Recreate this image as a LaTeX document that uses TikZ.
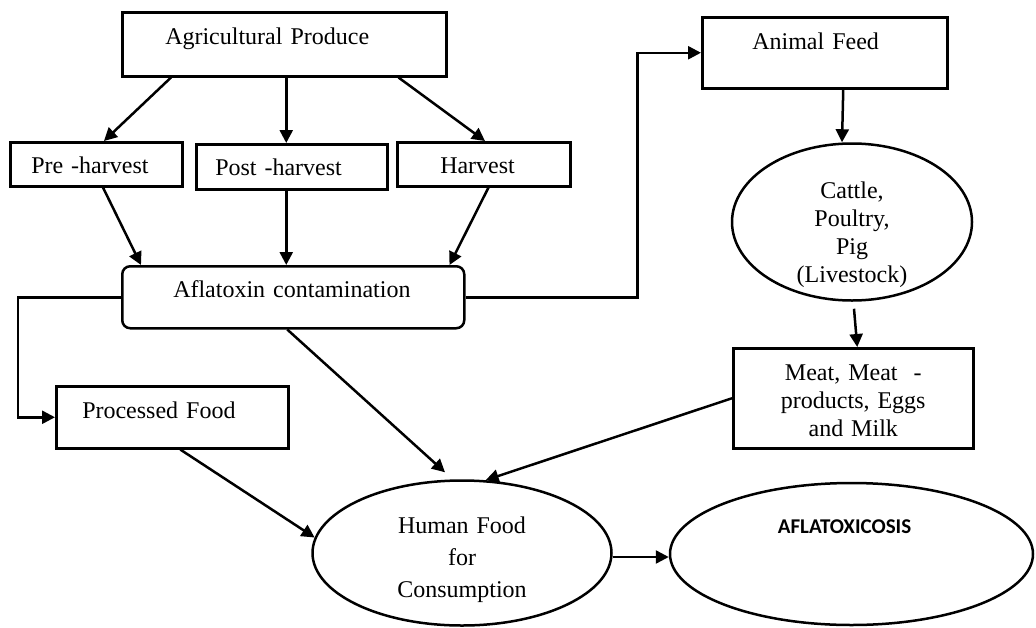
\documentclass[tikz,border=0pt]{standalone}
\usepackage{fontspec}
\setmainfont{Liberation Serif}
\newfontfamily\calibri{Carlito}
\usetikzlibrary{shapes.geometric,arrows.meta}

\tikzset{
    box/.style={draw, line width=2.5pt, inner ysep=0pt, align=left, anchor=north west},
    oval/.style={draw, ellipse, line width=2.5pt, inner sep=0pt, align=center},
    link/.style={line width=2.5pt, -{Triangle[length=13pt,width=13pt]}}
}

\begin{document}
\begin{tikzpicture}[x=1pt,y=-1pt,font=\fontsize{24}{28}\selectfont]
    \useasboundingbox (0,0) rectangle (1036,627);
    \node[box, inner xsep=43pt, text width=238pt, text height=32pt, text depth=32pt] (agri) at (121,11) {Agricultural Produce};
    \node[box, inner xsep=21pt, text width=130pt, text height=31pt, text depth=13pt] (pre) at (9,141) {Pre -harvest};
    \node[box, inner xsep=19pt, text width=153pt, text height=31pt, text depth=14pt] (post) at (195,143) {Post -harvest};
    \node[box, inner xsep=43pt, text width=87pt, text height=31pt, text depth=13pt] (harv) at (396,141) {Harvest};
    \node[box, rounded corners=8pt, inner xsep=51pt, text width=240pt, text height=31pt, text depth=31pt] (afla) at (121,265) {Aflatoxin contamination};
    \node[box, inner xsep=26pt, text width=180pt, text height=32pt, text depth=30pt] (proc) at (55,385) {Processed Food};
    \node[box, inner xsep=50pt, text width=145pt, text height=32pt, text depth=39pt] (feed) at (701,16) {Animal Feed};
    \node[oval, text width=130pt, minimum width=240pt, minimum height=157pt, text height=10pt, text depth=58pt] (stock) at (852,222) {Cattle,\\Poultry,\\Pig\\(Livestock)};
    \node[box, align=center, inner xsep=10pt, text width=220pt, text height=32pt, text depth=68pt] (meat) at (732,347) {Meat, Meat\hspace{16pt}-\\products, Eggs\hspace*{26pt}\\and Milk\hspace*{16pt}};
    \node[oval, font=\fontsize{24}{32}\selectfont, text width=150pt, minimum width=299pt, minimum height=145pt, text height=10pt, text depth=50pt] (human) at (462,553) {Human Food\\for\\Consumption};
    \node[oval, font=\calibri\bfseries\fontsize{21}{25}\selectfont, minimum width=363pt, minimum height=142pt, text height=10pt, text depth=52pt] (tox) at (851.5,554) {AFLATOXICOSIS\hspace*{14pt}};

    \path[link]
    ([xshift=50pt]agri.south west) edge ([xshift=95pt]pre.north west)
    ([xshift=2pt]agri.south) edge ([xshift=-5.5pt]post.north)
    ([xshift=-49pt]agri.south east) edge ([xshift=89pt]harv.north west)
    ([xshift=94pt]pre.south west) edge ([xshift=20pt]afla.north west)
    ([xshift=-5.5pt]post.south) edge ([xshift=-7pt]afla.north)
    ([xshift=-83pt]harv.south east) edge ([xshift=-16pt]afla.north east)
    ([xshift=-6pt]afla.south) edge ([xshift=-17pt,yshift=7pt]human.north)
    ([xshift=8pt]proc.south) edge (human.174)
    (meat.west) edge (human.72)
    ([xshift=18.5pt]feed.south) edge ([xshift=-10pt]stock.north)
    ([xshift=2pt,yshift=-7pt]stock.south) edge ([xshift=4pt]meat.north)
    ([yshift=-4pt]human.east) edge ([yshift=-3pt]tox.west);
    \draw[link] (afla.east) -- ++(172,0) |- (feed.west);
    \draw[link] (afla.west) -- ++(-103,0) |- (proc.west);
\end{tikzpicture}
\end{document}
